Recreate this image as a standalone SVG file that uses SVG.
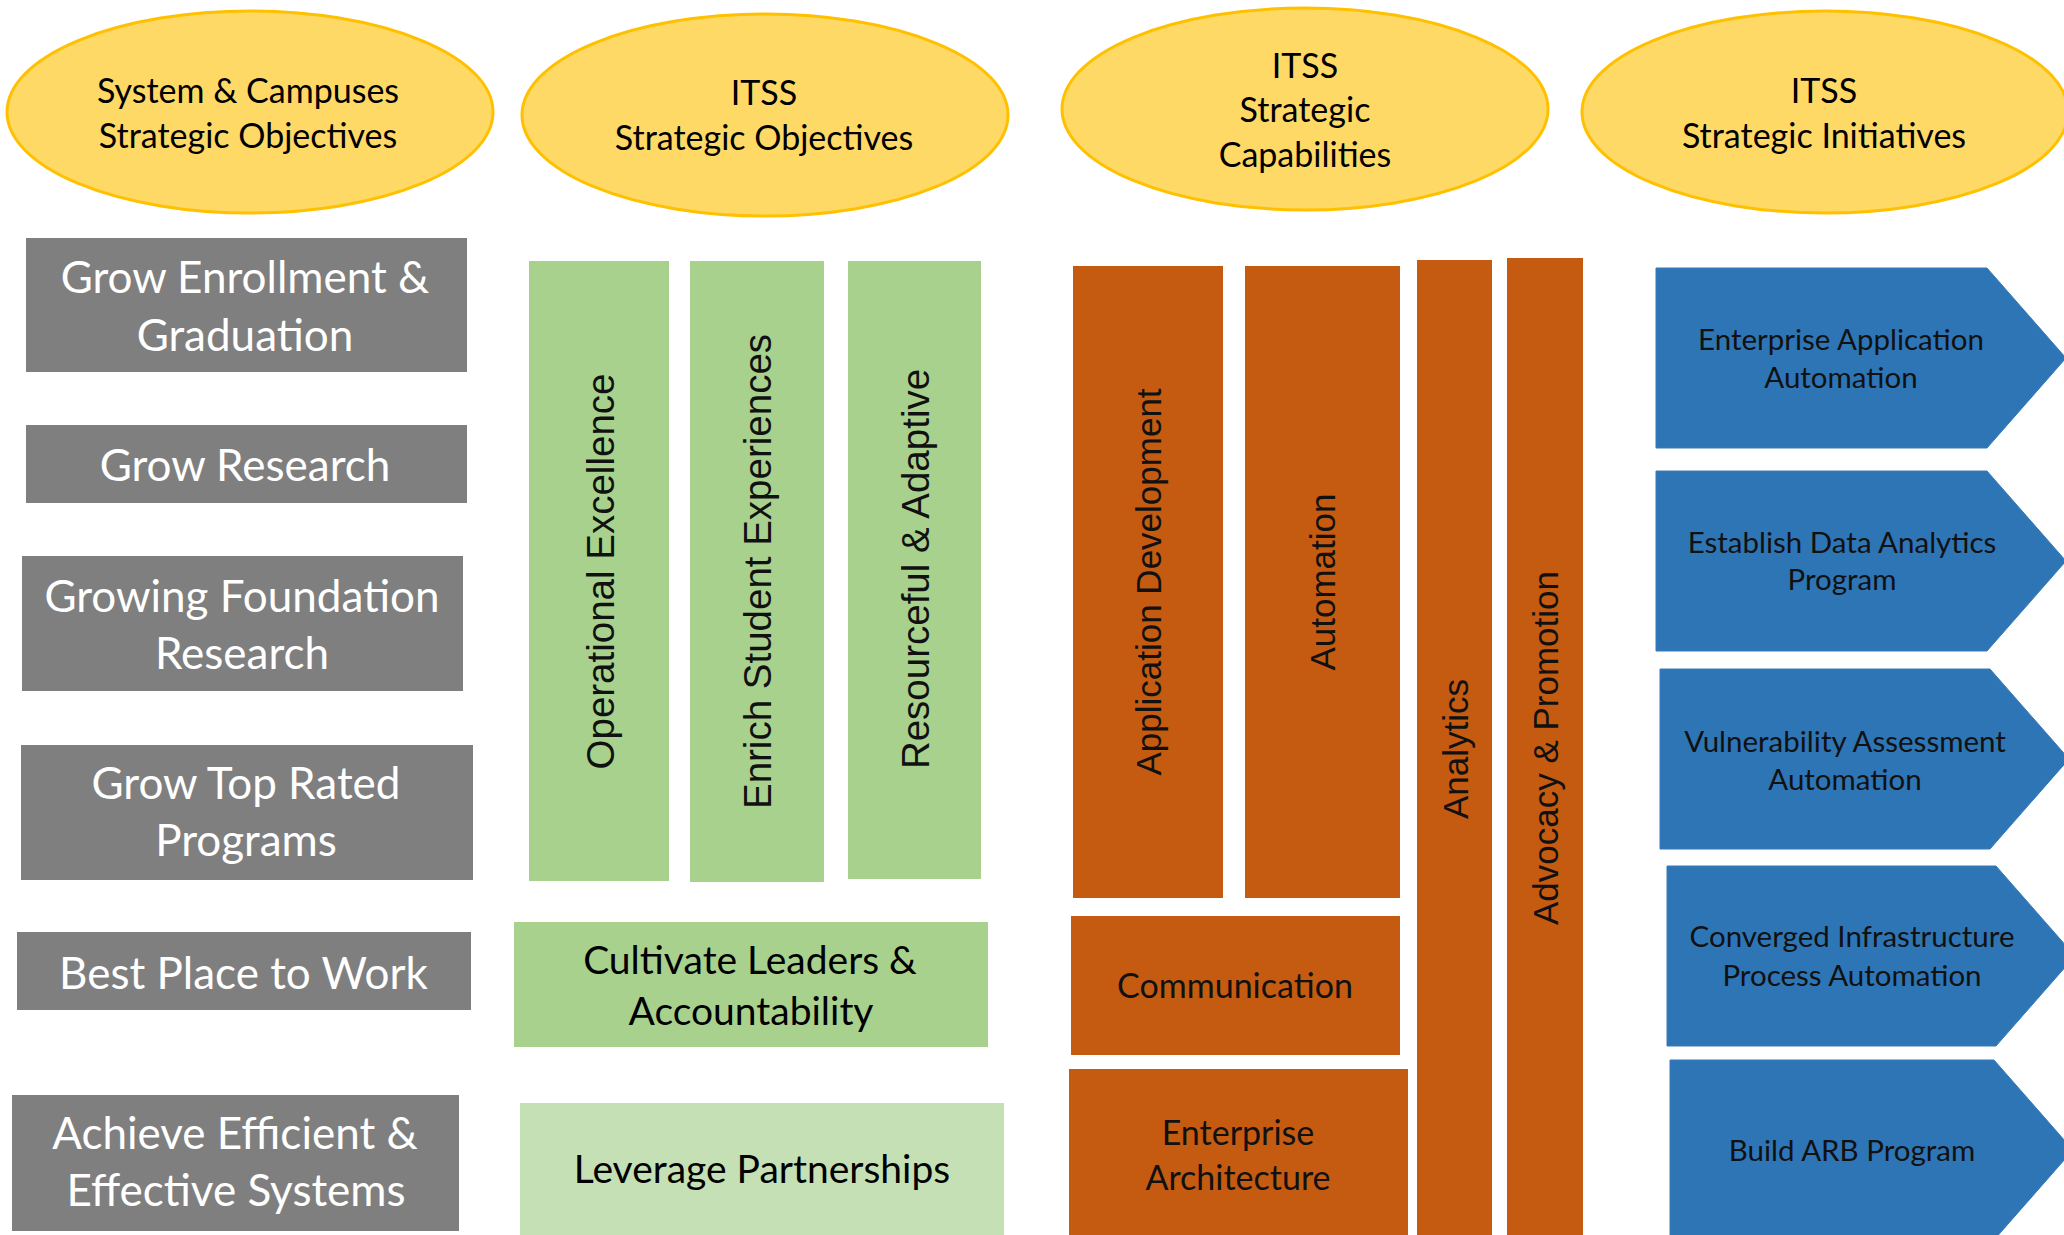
<svg xmlns="http://www.w3.org/2000/svg" width="2064" height="1235" viewBox="0 0 2064 1235">
<style>
.ell{fill:#FFD966;stroke:#FFC000;stroke-width:3}
.gray{fill:#7F7F7F}
.green{fill:#A9D18E}
.lgreen{fill:#C5E0B4}
.orange{fill:#C55A11}
.blue{fill:#2E75B6;stroke:#3A7BBA;stroke-width:1}
.t{font-family:Lato,"Open Sans","Liberation Sans",sans-serif;text-anchor:middle}
.te{font-size:34px;fill:#000}
.tg{font-size:44px;fill:#fff}
.tgr{font-size:39px;fill:#000}
.to{font-size:34px;fill:#111}
.tb{font-size:29.5px;fill:#111}
.v{font-family:"Liberation Sans",Arial,sans-serif;text-anchor:middle;fill:#111}
.vg{font-size:38.5px}
.vo{font-size:35px}
</style>
<rect width="2064" height="1235" fill="#fff"/>
<g id="connectors"/>
<!-- header ellipses -->
<g id="hdr-system">
<ellipse class="ell" cx="250" cy="112" rx="243" ry="101"/>
<text class="t te" x="248" y="102.5">System &amp; Campuses</text>
<text class="t te" x="248" y="147.5">Strategic Objectives</text>
</g>
<g id="hdr-itss-objectives">
<ellipse class="ell" cx="765" cy="115" rx="243" ry="101"/>
<text class="t te" x="764" y="105">ITSS</text>
<text class="t te" x="764" y="150">Strategic Objectives</text>
</g>
<g id="hdr-itss-capabilities">
<ellipse class="ell" cx="1305" cy="109" rx="243" ry="101"/>
<text class="t te" x="1305" y="77.5">ITSS</text>
<text class="t te" x="1305" y="122">Strategic</text>
<text class="t te" x="1305" y="166.5">Capabilities</text>
</g>
<g id="hdr-itss-initiatives">
<ellipse class="ell" cx="1825" cy="112" rx="243" ry="101"/>
<text class="t te" x="1824" y="102.5">ITSS</text>
<text class="t te" x="1824" y="147.5">Strategic Initiatives</text>
</g>
<!-- gray system objectives -->
<g id="obj-enrollment">
<rect class="gray" x="26" y="238" width="441" height="134"/>
<text class="t tg" x="245" y="292.5">Grow Enrollment &amp;</text>
<text class="t tg" x="245" y="350.5">Graduation</text>
</g>
<g id="obj-research">
<rect class="gray" x="26" y="425" width="441" height="78"/>
<text class="t tg" x="245" y="481">Grow Research</text>
</g>
<g id="obj-foundation">
<rect class="gray" x="22" y="556" width="441" height="135"/>
<text class="t tg" x="242" y="611.5">Growing Foundation</text>
<text class="t tg" x="242" y="669">Research</text>
</g>
<g id="obj-programs">
<rect class="gray" x="21" y="745" width="452" height="135"/>
<text class="t tg" x="246" y="799">Grow Top Rated</text>
<text class="t tg" x="246" y="855.5">Programs</text>
</g>
<g id="obj-work">
<rect class="gray" x="17" y="932" width="454" height="78"/>
<text class="t tg" x="243.5" y="988.5">Best Place to Work</text>
</g>
<g id="obj-systems">
<rect class="gray" x="12" y="1095" width="447" height="136"/>
<text class="t tg" x="235" y="1148.5">Achieve Efficient &amp;</text>
<text class="t tg" x="236" y="1206">Effective Systems</text>
</g>
<!-- green ITSS objectives -->
<g id="itss-operational">
<rect class="green" x="529" y="261" width="140" height="620"/>
<text class="v vg" transform="translate(614 571.5) rotate(-90)">Operational Excellence</text>
</g>
<g id="itss-student">
<rect class="green" x="690" y="261" width="134" height="621"/>
<text class="v vg" transform="translate(771 571.5) rotate(-90)">Enrich Student Experiences</text>
</g>
<g id="itss-resourceful">
<rect class="green" x="848" y="261" width="133" height="618"/>
<text class="v vg" transform="translate(929 569) rotate(-90)">Resourceful &amp; Adaptive</text>
</g>
<g id="itss-leaders">
<rect class="green" x="514" y="922" width="474" height="125"/>
<text class="t tgr" x="750" y="974.3">Cultivate Leaders &amp;</text>
<text class="t tgr" x="751" y="1025">Accountability</text>
</g>
<g id="itss-partnerships">
<rect class="lgreen" x="520" y="1103" width="484" height="132"/>
<text class="t tgr" x="762" y="1182.7">Leverage Partnerships</text>
</g>
<!-- orange capabilities -->
<g id="cap-appdev">
<rect class="orange" x="1073" y="266" width="150" height="632"/>
<text class="v vo" transform="translate(1161 582) rotate(-90)">Application Development</text>
</g>
<g id="cap-automation">
<rect class="orange" x="1245" y="266" width="155" height="632"/>
<text class="v vo" transform="translate(1335 582) rotate(-90)">Automation</text>
</g>
<g id="cap-analytics">
<rect class="orange" x="1417" y="260" width="75" height="980"/>
<text class="v vo" transform="translate(1468 749) rotate(-90)">Analytics</text>
</g>
<g id="cap-advocacy">
<rect class="orange" x="1507" y="258" width="76" height="982"/>
<text class="v vo" transform="translate(1558 748) rotate(-90)">Advocacy &amp; Promotion</text>
</g>
<g id="cap-communication">
<rect class="orange" x="1071" y="916" width="329" height="139"/>
<text class="t to" x="1235" y="998">Communication</text>
</g>
<g id="cap-enterprise-arch">
<rect class="orange" x="1069" y="1069" width="339" height="171"/>
<text class="t to" x="1238" y="1145">Enterprise</text>
<text class="t to" x="1238" y="1190">Architecture</text>
</g>
<!-- blue initiatives -->
<g id="init-enterprise-app">
<polygon class="blue" points="1656,268 1987,268 2066,358 1987,448 1656,448"/>
<text class="t tb" x="1841" y="350">Enterprise Application</text>
<text class="t tb" x="1841" y="388">Automation</text>
</g>
<g id="init-data-analytics">
<polygon class="blue" points="1656,471 1987,471 2066,561 1987,651 1656,651"/>
<text class="t tb" x="1842" y="553">Establish Data Analytics</text>
<text class="t tb" x="1842" y="590">Program</text>
</g>
<g id="init-vulnerability">
<polygon class="blue" points="1660,669 1990,669 2069,759 1990,849 1660,849"/>
<text class="t tb" x="1845" y="751.5">Vulnerability Assessment</text>
<text class="t tb" x="1845" y="789.5">Automation</text>
</g>
<g id="init-converged">
<polygon class="blue" points="1667,866 1996,866 2075,956 1996,1046 1667,1046"/>
<text class="t tb" x="1852" y="947">Converged Infrastructure</text>
<text class="t tb" x="1852" y="985.5">Process Automation</text>
</g>
<g id="init-arb">
<polygon class="blue" points="1670,1060 1994,1060 2073,1150 1994,1240 1670,1240"/>
<text class="t tb" x="1852" y="1161">Build ARB Program</text>
</g>
</svg>
